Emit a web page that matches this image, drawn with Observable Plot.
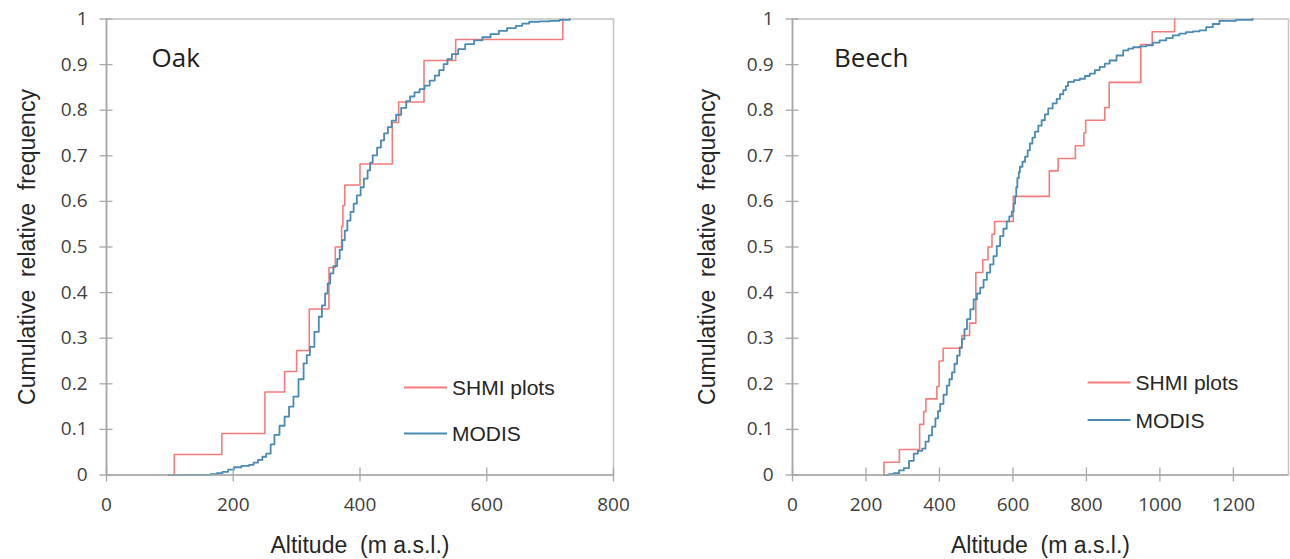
<!DOCTYPE html>
<html><head><meta charset="utf-8">
<script src="https://cdn.jsdelivr.net/npm/d3@7"></script>
<script src="https://cdn.jsdelivr.net/npm/@observablehq/plot@0.6"></script>
<style>
body{margin:0;background:#fff;}
#wrap{display:flex;width:1290px;height:559px;overflow:hidden;}
#wrap svg{flex:none;}
</style></head><body><div id="wrap"></div>
<script>
// ---- data ----
const yTicks = [0, 0.1, 0.2, 0.3, 0.4, 0.5, 0.6, 0.7, 0.8, 0.9, 1];
const oakXTicks = [0, 200, 400, 600, 800];
const beechXTicks = [0, 200, 400, 600, 800, 1000, 1200];
const seriesNames = ["SHMI plots", "MODIS"];
const xTitle = "Altitude  (m a.s.l.)";
const yTitle = "Cumulative  relative  frequency";

// Oak – SHMI plots (step CDF)
const oakShmiAlt = [107, 107, 182, 250, 281, 300, 320, 351, 361, 371, 373, 376, 400, 451, 461, 501, 551, 720];
const oakShmiCdf = [0, 0.045, 0.091, 0.182, 0.227, 0.273, 0.364, 0.455, 0.5, 0.545, 0.591, 0.636, 0.682, 0.773, 0.818, 0.909, 0.955, 1];
// Oak – MODIS
const oakModisAlt = [98, 164, 174, 183, 192, 201, 213, 225, 232, 239, 246, 252, 259, 265, 273, 281, 288, 295, 303, 311, 316, 321, 328, 335, 340, 345, 349, 353, 358, 364, 368, 372, 376, 380, 385, 390, 395, 401, 406, 412, 416, 420, 427, 433, 438, 444, 450, 457, 465, 473, 479, 486, 494, 502, 510, 518, 525, 532, 538, 545, 555, 566, 580, 593, 606, 619, 632, 646, 656, 667, 683, 699, 715, 731];
const oakModisCdf = [0, 0.002, 0.004, 0.007, 0.012, 0.017, 0.02, 0.022, 0.027, 0.033, 0.04, 0.047, 0.067, 0.088, 0.108, 0.128, 0.15, 0.172, 0.21, 0.245, 0.263, 0.281, 0.314, 0.347, 0.372, 0.398, 0.42, 0.442, 0.458, 0.474, 0.494, 0.515, 0.536, 0.558, 0.577, 0.595, 0.613, 0.631, 0.65, 0.668, 0.685, 0.701, 0.718, 0.734, 0.749, 0.763, 0.777, 0.79, 0.805, 0.82, 0.83, 0.839, 0.846, 0.854, 0.865, 0.876, 0.888, 0.901, 0.912, 0.923, 0.934, 0.945, 0.953, 0.96, 0.967, 0.974, 0.98, 0.985, 0.99, 0.994, 0.995, 0.996, 0.998, 1];

// Beech – SHMI plots (step CDF)
const beechShmiAlt = [249, 249, 291, 346, 357, 363, 393, 399, 410, 461, 482, 499, 518, 532, 543, 550, 601, 699, 723, 770, 793, 798, 850, 862, 948, 979, 1040];
const beechShmiCdf = [0, 0.028, 0.056, 0.111, 0.139, 0.167, 0.194, 0.25, 0.278, 0.306, 0.333, 0.444, 0.472, 0.5, 0.528, 0.556, 0.611, 0.667, 0.694, 0.722, 0.75, 0.778, 0.806, 0.861, 0.944, 0.972, 1];
// Beech – MODIS
const beechModisAlt = [250, 263, 276, 290, 303, 317, 330, 341, 353, 362, 371, 380, 389, 396, 402, 411, 420, 427, 434, 441, 448, 455, 461, 468, 475, 484, 493, 502, 511, 520, 529, 538, 547, 556, 565, 574, 583, 590, 597, 602, 606, 609, 612, 616, 619, 626, 633, 640, 646, 653, 660, 669, 678, 687, 696, 708, 719, 728, 737, 744, 750, 766, 782, 796, 809, 823, 836, 850, 863, 882, 900, 914, 927, 945, 963, 981, 999, 1017, 1035, 1053, 1071, 1090, 1108, 1126, 1144, 1162, 1207, 1252];
const beechModisCdf = [0, 0.002, 0.004, 0.01, 0.015, 0.031, 0.047, 0.053, 0.058, 0.073, 0.087, 0.106, 0.124, 0.14, 0.156, 0.176, 0.196, 0.21, 0.225, 0.244, 0.262, 0.28, 0.298, 0.32, 0.342, 0.363, 0.385, 0.398, 0.411, 0.428, 0.444, 0.462, 0.48, 0.502, 0.524, 0.54, 0.556, 0.567, 0.578, 0.595, 0.611, 0.631, 0.651, 0.664, 0.676, 0.687, 0.698, 0.712, 0.727, 0.74, 0.753, 0.766, 0.778, 0.791, 0.804, 0.815, 0.825, 0.835, 0.844, 0.853, 0.862, 0.866, 0.869, 0.875, 0.88, 0.888, 0.895, 0.902, 0.909, 0.92, 0.931, 0.935, 0.938, 0.94, 0.942, 0.948, 0.953, 0.958, 0.964, 0.968, 0.971, 0.973, 0.975, 0.982, 0.989, 0.996, 0.998, 1];

const RED = "#f77b7b", BLUE = "#4a8bb3";
const AXIS = "#a8a8a8", FRAME = "#c6c6c6";
const TICKFONT = "'Open Sans', 'DejaVu Sans', sans-serif";
const TITLEFONT = "'Liberation Sans', Arial, sans-serif";

const toRows = (xs, ys) => xs.map((x, i) => ({x, y: ys[i]}));

function panel(o) {
  const svg = Plot.plot({
    width: o.width, height: 559,
    marginLeft: o.ml, marginRight: o.mr, marginTop: 18.5, marginBottom: 84.5,
    x: {domain: o.xDomain, axis: null},
    y: {domain: [0, 1], axis: null},
    style: {background: "#fff", overflow: "visible"},
    marks: [
      Plot.frame({stroke: FRAME, strokeWidth: 1.6}),
      Plot.line(toRows(o.shmiAlt, o.shmiCdf), {x: "x", y: "y", curve: "step-after", stroke: RED, strokeWidth: 1.6}),
      Plot.line(toRows(o.modisAlt, o.modisCdf), {x: "x", y: "y", curve: "step-after", stroke: BLUE, strokeWidth: 1.8}),
      Plot.ruleX([0], {stroke: AXIS, strokeWidth: 1.6}),
      Plot.ruleY([0], {stroke: AXIS, strokeWidth: 1.6}),
      Plot.axisY(yTicks, {tickSize: 13, dx: 6.5, stroke: AXIS, strokeWidth: 1.3, tickFormat: () => "", label: null}),
      Plot.axisY(yTicks, {tickSize: 0, tickPadding: 19, tickFormat: d => String(d), fontSize: 19, fontFamily: TICKFONT, fill: "#404040", label: null}),
      Plot.axisX(o.xTicks, {tickSize: 14, dy: -7, stroke: AXIS, strokeWidth: 1.3, tickFormat: () => "", label: null}),
      Plot.axisX(o.xTicks, {tickSize: 0, tickPadding: 22, tickFormat: d => String(d), fontSize: 19, fontFamily: TICKFONT, fill: "#404040", label: null}),
      Plot.text([o.name], {frameAnchor: "top-left", dx: o.nameDx, dy: 48, lineAnchor: "bottom", textAnchor: "start", fontSize: 26, fontFamily: TICKFONT, fill: "#202020"}),
      Plot.text([xTitle], {frameAnchor: "bottom", dy: 78, lineAnchor: "bottom", fontSize: 23, fontFamily: TITLEFONT, fill: "#262626"}),
      Plot.text([yTitle], {frameAnchor: "left", dx: o.yTitleDx, rotate: -90, textAnchor: "middle", lineAnchor: "middle", fontSize: 23, fontFamily: TITLEFONT, fill: "#262626"})
    ]
  });
  const s = d3.select(svg);
  s.selectAll("text").style("white-space", "pre");
  // legend (inside the plot area)
  const lg = s.append("g").attr("font-family", TITLEFONT).attr("font-size", 21).attr("fill", "#262626").attr("text-anchor", "start");
  [[seriesNames[0], RED, o.legY[0]], [seriesNames[1], BLUE, o.legY[1]]].forEach(([t, c, y]) => {
    lg.append("line").attr("x1", o.legX).attr("x2", o.legX + 43).attr("y1", y).attr("y2", y)
      .attr("stroke", c).attr("stroke-width", 1.8);
    lg.append("text").attr("x", o.legX + 48).attr("y", y).attr("dy", "0.36em").attr("text-anchor", "start").text(t);
  });
  return svg;
}

const wrap = document.getElementById("wrap");
wrap.appendChild(panel({
  width: 645, ml: 106, mr: 32, xDomain: [0, 800], xTicks: oakXTicks, name: "Oak", nameDx: 45, yTitleDx: -79,
  shmiAlt: oakShmiAlt, shmiCdf: oakShmiCdf, modisAlt: oakModisAlt, modisCdf: oakModisCdf,
  legX: 404, legY: [387.5, 433.5]
}));
wrap.appendChild(panel({
  width: 645, ml: 147, mr: 2, xDomain: [0, 1350], xTicks: beechXTicks, name: "Beech", nameDx: 41.5, yTitleDx: -85,
  shmiAlt: beechShmiAlt, shmiCdf: beechShmiCdf, modisAlt: beechModisAlt, modisCdf: beechModisCdf,
  legX: 442.6, legY: [382.5, 420]
}));
</script></body></html>
